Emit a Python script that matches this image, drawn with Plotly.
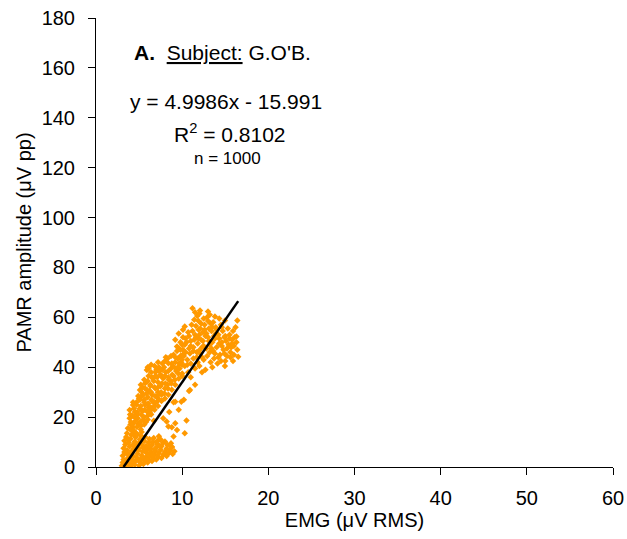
import plotly.graph_objects as go

# Bottom dense blob
blob_x = [3.0,3.1,3.2,3.1,3.3,3.2,3.4,3.3,3.5,3.6,
          3.5,3.6,3.7,3.8,3.6,3.9,3.8,4.0,4.1,4.2,
          4.0,4.1,4.2,4.3,4.1,4.4,4.3,4.5,4.6,4.7,
          4.5,4.6,4.7,4.8,4.9,4.7,5.0,5.1,5.2,5.3,
          5.0,5.1,5.2,5.3,5.4,5.5,5.3,5.6,5.7,
          5.5,5.6,5.8,5.9,6.0,5.8,6.1,6.2,
          6.0,6.1,6.2,6.4,6.3,6.5,6.6,6.7,
          6.5,6.6,6.8,6.9,7.0,7.1,7.2,7.3,
          7.0,7.2,7.3,7.5,7.6,7.8,7.5,
          7.6,7.8,8.0,8.2,8.3,8.0,
          8.2,8.4,8.6,8.8,8.9,9.1,8.7,
          3.4,3.9,4.4,4.9,5.4,5.9,6.3,6.8,7.4,4.2,4.8,5.2,3.5,3.7,4.4,6.2,7.0,5.7,5.0,6.6]
blob_y = [0.5,1.8,3.0,4.5,6.0,7.5,9.0,10.5,12.0,13.5,
          0.8,2.2,3.6,5.1,6.7,8.2,9.8,11.3,12.8,14.5,
          0.4,1.5,2.9,4.4,5.9,7.3,8.9,10.2,11.9,13.4,
          0.9,2.5,3.8,5.3,6.6,8.0,9.5,11.0,12.6,14.0,
          0.6,1.9,3.2,4.6,6.2,7.7,9.0,10.4,12.0,
          1.2,2.6,3.9,5.5,7.0,8.4,9.8,11.2,
          1.8,3.1,4.5,6.0,7.4,8.8,10.1,11.6,
          2.4,3.7,5.0,6.4,7.8,9.2,10.6,12.3,
          3.0,4.2,5.6,6.9,8.3,9.7,11.0,
          3.6,4.9,6.1,7.4,8.8,10.2,
          4.4,5.4,6.6,7.9,5.2,6.3,9.5,
          1.2,0.7,2.0,3.0,4.0,2.9,5.2,7.0,8.5,6.5,9.0,10.5,5.5,11.0,13.0,8.5,9.9,6.5,7.5,4.8]

# Middle band
mid_x = [3.7,4.0,4.3,4.6,4.9,5.2,5.5,5.8,6.0,6.3,
         3.9,4.2,4.5,4.8,5.1,5.4,5.7,6.1,6.5,6.8,
         3.9,4.3,4.7,5.0,5.3,5.6,5.9,6.2,6.5,6.9,7.2,7.5,
         5.1,5.4,5.7,6.0,6.3,6.6,6.9,7.2,7.5,7.8,8.1,8.4,8.7,
         5.9,6.1,6.4,7.0,7.3,7.7,8.4,8.0,8.9,9.2,9.5,9.0,9.4,9.8,10.1,9.2,9.4,
         7.2,7.6,8.0,8.3,8.7,9.0,9.3,9.7,10.0,
         6.0,6.4,6.8,6.7,
         8.2,8.4,9.2,9.4,9.0,10.3,10.5,8.8,7.8,9.6,10.2,10.8,11.5,11.0,12.3,9.0,8.5,
         4.0,4.05,3.95,
         4.4,4.35,4.45,4.4,4.3,
         4.8,4.75,4.85,4.8,4.7,4.9,
         5.2,5.15,5.25,5.2,5.1,5.3,5.2,
         5.6,5.55,5.65,5.6,5.5,5.7,5.6,
         6.0,5.95,6.05,6.0,5.9,6.1,6.0,
         6.4,6.35,6.45,6.4,6.3,6.5,6.4,
         6.8,6.75,6.85,6.8,6.7,6.9,6.8,
         7.2,7.15,7.25,7.2,7.1,7.3,7.2,
         7.6,7.55,7.65,7.6,7.5,7.7,
         8.0,7.95,8.05,8.0,7.9,8.1,
         8.4,8.35,8.45,8.4,8.3,
         8.8,8.75,8.85,8.8,8.7,
         9.2,9.15,9.25,9.2,
         9.6,9.55,9.65,9.6,
         10.0,9.95,10.05,10.0,
         9.5,9.9,10.3,10.7,10.0,9.8,10.4,9.2,9.9,10.9,8.8]
mid_y = [15.5,17.0,16.0,18.5,17.2,16.5,19.0,18.0,20.5,21.5,
         19.5,20.5,22.0,21.0,23.5,22.5,25.0,24.0,26.5,25.5,
         22.9,24.9,26.0,27.5,28.5,27.0,29.5,30.5,29.0,31.5,30.0,32.5,
         30.9,32.0,33.6,34.5,33.0,35.5,36.5,34.0,37.0,35.5,38.0,36.0,39.5,
         38.9,39.5,38.0,38.9,40.0,39.0,41.6,42.5,40.5,42.0,43.5,45.0,46.5,44.5,47.0,51.0,48.3,
         27.5,29.0,31.5,33.0,34.5,36.5,38.5,39.5,41.0,
         22.0,23.0,24.5,18.5,
         18.2,16.2,17.5,14.8,12.2,13.5,18.6,8.1,19.5,23.0,27.0,30.5,33.0,36.0,38.0,26.0,22.0,
         15.0,18.0,21.0,
         14.5,17.5,20.0,23.5,26.0,
         13.0,16.0,19.5,22.0,25.0,28.5,
         15.0,18.0,21.0,24.5,27.0,30.0,33.0,
         17.0,20.0,23.0,26.0,29.0,31.5,35.0,
         19.0,22.5,25.5,28.0,31.0,36.5,40.0,
         21.0,24.0,27.0,30.0,32.5,36.0,41.0,
         23.0,26.0,28.5,32.0,34.5,38.0,40.5,
         24.5,26.5,29.0,32.0,36.0,38.5,42.0,
         26.5,30.0,33.5,36.5,39.0,41.5,
         27.5,29.5,33.5,36.5,40.0,44.0,
         29.0,31.5,35.0,38.5,43.5,
         31.0,33.5,37.0,41.5,44.5,
         33.0,35.0,39.5,44.0,
         35.5,37.5,41.5,47.5,
         37.5,43.0,45.0,49.0,
         40.0,42.0,40.5,38.0,36.5,47.0,51.5,26.2,26.2,30.9,15.9]

# Upper cluster
up_x = [11.2,12.07,13.0,11.75,13.8,14.97,16.4,16.3,16.5,14.96,10.1,10.3,
        10.5,10.8,11.0,11.2,11.4,11.6,11.8,12.0,12.2,12.4,12.6,12.8,13.0,13.2,13.4,13.6,13.8,14.0,14.2,14.4,14.6,14.8,15.0,15.2,15.4,15.6,15.8,16.0,
        10.9,11.3,11.7,12.1,12.5,12.9,13.3,13.7,14.1,14.5,10.6,11.0,11.5,12.0,12.7,13.5,
        11.9,12.5,13.3,13.9,14.5,15.3,15.9,16.2,11.4,12.9,14.3,
        10.7,11.1,11.5,11.9,12.3,12.7,13.1,13.5,13.9,14.3,14.7,15.1,15.5,12.0,12.4,13.2,13.6,14.9,15.7,16.0,
        10.3,10.1,10.4,9.8,9.6,15.9,16.3,
        11.0,11.3,11.6,11.9,12.2,12.5,12.8,13.1,13.4,13.7,14.0,14.3,14.6,14.9,15.2,15.5,15.8,16.1,
        12.1,12.6,13.0,13.5,11.7,12.3,13.8,14.2,15.0,15.6,11.3,10.8,10.2,10.6,11.8,16.4,14.6,13.2,12.0,11.5]
up_y = [63.6,62.7,62.3,60.5,60.3,58.7,58.7,52.3,44.2,40.5,55.0,56.3,
        50.0,52.5,48.5,54.5,51.0,56.5,49.5,53.0,57.5,50.5,55.0,47.5,52.0,49.0,54.5,46.5,51.5,48.0,53.0,45.0,50.0,47.0,52.5,44.5,49.0,46.0,51.0,48.5,
        45.5,46.5,44.0,45.5,43.0,44.5,42.0,43.5,41.5,42.5,43.0,41.5,39.5,40.5,39.0,40.0,
        58.5,59.5,57.5,56.0,57.0,55.5,54.5,56.0,59.0,60.0,59.5,
        54.0,57.0,53.0,51.5,48.0,52.5,55.5,50.0,53.5,49.5,54.5,50.5,53.0,46.8,54.0,46.0,58.0,45.5,48.0,45.0,
        49.0,52.0,46.0,50.0,53.5,42.5,50.0,
        50.5,48.0,52.0,55.0,51.0,48.5,53.5,50.5,47.5,52.5,55.0,51.5,48.5,52.0,47.5,51.5,49.5,52.0,
        55.5,57.0,58.5,56.0,46.0,44.0,45.5,44.0,42.5,44.0,43.5,47.5,44.5,41.0,42.0,47.0,56.0,61.0,61.5,62.0]

slope = 4.9986
intercept = -15.991
trend_x = [3.2, 16.5]

emg = blob_x + mid_x + up_x
pamr = blob_y + mid_y + up_y

fig = go.Figure()
fig.add_trace(go.Scatter(x=emg, y=pamr, mode="markers",
                         marker=dict(symbol="diamond", size=5, color="#FF9900", line=dict(width=0)),
                         showlegend=False, hoverinfo="x+y"))
fig.add_trace(go.Scatter(x=trend_x, y=[slope * v + intercept for v in trend_x], mode="lines",
                         line=dict(color="black", width=2.5), showlegend=False))

fam = "Liberation Sans, Arial, sans-serif"
font = dict(family=fam, size=20, color="black")
fig.update_layout(
    width=627, height=539,
    margin=dict(l=96, r=14, t=18, b=72),
    paper_bgcolor="white", plot_bgcolor="white",
    font=font,
    xaxis=dict(range=[0, 60], tickvals=[0, 10, 20, 30, 40, 50, 60], showgrid=False, zeroline=False,
               showline=True, linecolor="black", linewidth=1, ticks="outside", ticklen=7,
               tickcolor="black", tickfont=font, automargin=False, ticklabelstandoff=6,
               ticklabeloverflow="allow",
               title=dict(text="EMG (μV RMS)", font=font, standoff=4)),
    yaxis=dict(range=[0, 180], tickvals=list(range(0, 181, 20)), showgrid=False, zeroline=False,
               showline=True, linecolor="black", linewidth=1, ticks="outside", ticklen=7,
               tickcolor="black", tickfont=font, automargin=False, ticklabelstandoff=9,
               ticklabeloverflow="allow",
               title=dict(text="PAMR amplitude (μV pp)", font=font, standoff=4)),
    annotations=[
        dict(xref="paper", yref="paper", x=0.0696, y=0.924, xanchor="left", yanchor="middle",
             text="<b>A.</b>  <u>Subject:</u> G.O'B.", showarrow=False, font=dict(family=fam, size=21, color="black")),
        dict(xref="paper", yref="paper", x=0.2505, y=0.813, xanchor="center", yanchor="middle",
             text="y = 4.9986x - 15.991", showarrow=False, font=dict(family=fam, size=21, color="black")),
        dict(xref="paper", yref="paper", x=0.259, y=0.744, xanchor="center", yanchor="middle",
             text="R<sup>2</sup> = 0.8102", showarrow=False, font=dict(family=fam, size=21, color="black")),
        dict(xref="paper", yref="paper", x=0.255, y=0.688, xanchor="center", yanchor="middle",
             text="n = 1000", showarrow=False, font=dict(family=fam, size=17, color="black")),
    ],
)
fig.write_html("out.html", config={"displayModeBar": False},
               post_script="document.body.style.margin='0';document.body.style.overflow='hidden';")
